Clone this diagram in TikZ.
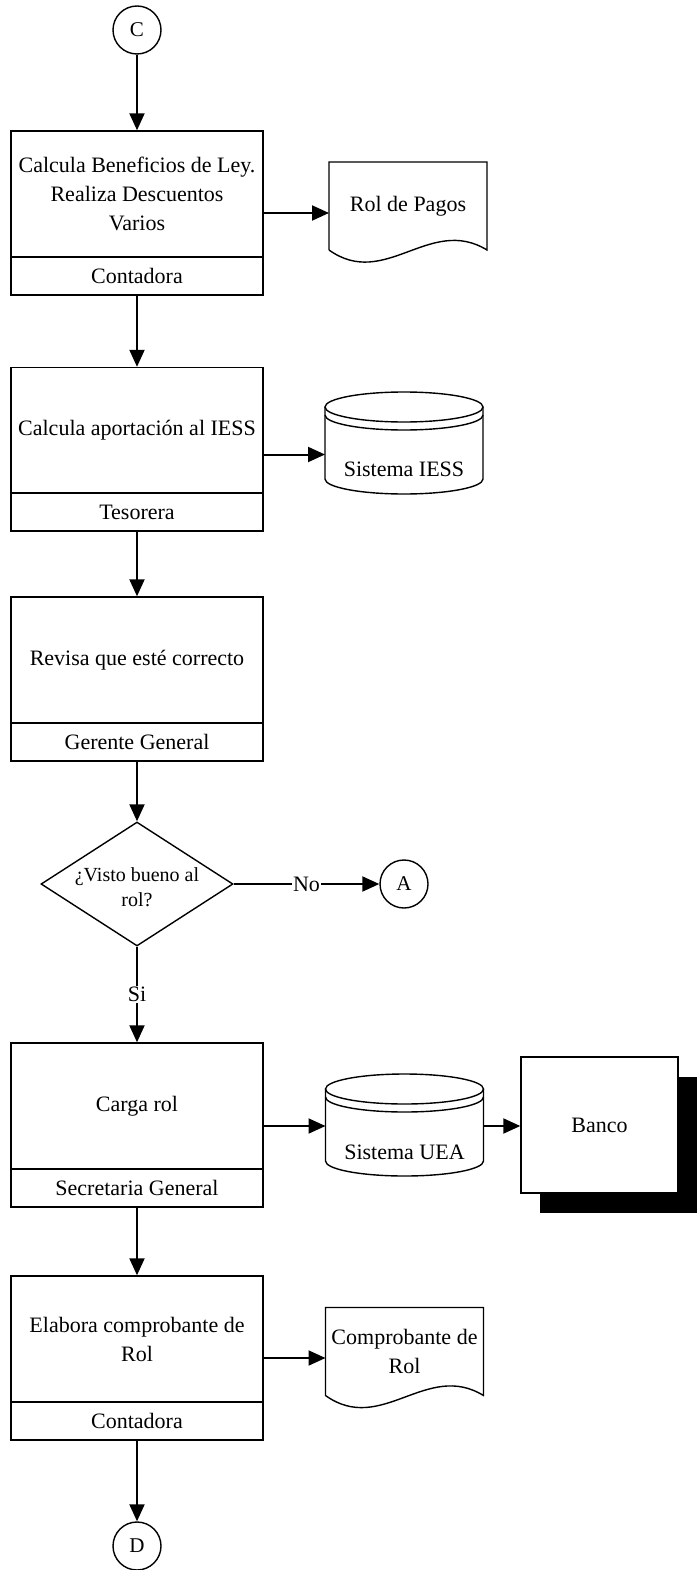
\documentclass[tikz,border=0pt]{standalone}
\usepackage{fontspec}
\setmainfont{Liberation Serif}
\usetikzlibrary{arrows.meta,shapes.geometric,shadows}

\tikzset{
  shape line/.style={line width=1.4pt},
  act/.style={shape line, draw, minimum width=252pt, minimum height=126pt, inner sep=0pt, align=center},
  role/.style={shape line, draw, minimum width=252pt, minimum height=38pt, inner sep=0pt},
  conn/.style={shape line, draw, circle, minimum size=48pt, inner sep=0pt, font=\fontsize{21}{25}\selectfont},
  doc/.style={minimum width=158pt, minimum height=88pt, inner sep=0pt, outer sep=0pt, align=center},
  db/.style={minimum width=158pt, minimum height=102pt, inner sep=0pt, outer sep=0pt},
  ext/.style={shape line, draw, fill=white, minimum width=157pt, minimum height=136pt,
    general shadow={shadow xshift=19pt, shadow yshift=-20pt, fill=black}},
  dec/.style={shape line, draw, diamond, minimum width=192pt, minimum height=124pt, inner sep=0pt},
  flow/.style={line width=2pt, -{Triangle[length=17pt,width=15pt]}},
  lbl/.style={fill=white, inner sep=1pt},
}

\begin{document}
\begin{tikzpicture}[x=1pt, y=-1pt, every node/.style={font=\fontsize{22}{29}\selectfont}]
  \useasboundingbox (0,0) rectangle (697,1570);
  \node[conn] (c) at (137,30) {C};
  \node[act] (p1) at (137,194) {Calcula Beneficios de Ley.\\Realiza Descuentos\\Varios};
  \node[role] (p1r) at (137,276) {Contadora};
  \node[doc] (rol) at (408,206) {Rol de Pagos};
  \node[act] (p2) at (137,430.5) {Calcula aportación al IESS};
  \node[role] (p2r) at (137,512) {Tesorera};
  \node[db] (iess) at (404,443) {};
  \node (iesst) at ([yshift=-26pt]iess.center) {Sistema IESS};
  \node[act] (p3) at (137,660) {Revisa que esté correcto};
  \node[role] (p3r) at (137,742) {Gerente General};
  \node[dec] (vb) at (137,884) {};
  \node[font=\fontsize{20}{25}\selectfont, align=center] (vbt) at (137,887) {¿Visto bueno al\\rol?};
  \node[conn] (a) at (404,884) {A};
  \node[act] (p4) at (137,1106) {Carga rol};
  \node[role] (p4r) at (137,1188) {Secretaria General};
  \node[db] (uea) at (404.5,1125) {};
  \node (ueat) at ([yshift=-27pt]uea.center) {Sistema UEA};
  \node[ext] (banco) at (599.5,1125) {Banco};
  \node[act] (p5) at (137,1339) {Elabora comprobante de\\Rol};
  \node[role] (p5r) at (137,1421) {Contadora};
  \node[doc] (comp) at (404.5,1351.5) {Comprobante de\\Rol};
  \node[conn] (d) at (137,1546) {D};

  \foreach \n in {rol,comp} {
    \draw[shape line] (\n.south west) -- (\n.north west) -- (\n.north east) -- (\n.south east)
      .. controls +(-57,-35) and +(56,40) .. (\n.south west);
  }
  \foreach \n in {iess,uea} {
    \draw[shape line] ([yshift=-15pt]\n.north west) -- ([yshift=15pt]\n.south west)
      arc[start angle=180, end angle=360, x radius=79pt, y radius=15pt]
      -- ([yshift=-15pt]\n.north east);
    \draw[shape line] ([yshift=-15pt]\n.north) ellipse[x radius=79pt, y radius=15pt];
    \draw[shape line] ([yshift=-23pt]\n.north west)
      arc[start angle=180, end angle=360, x radius=79pt, y radius=15pt];
  }

  \draw[flow] (c) -- (p1);
  \draw[flow] (p1r) -- (p2);
  \draw[flow] (p2r) -- (p3);
  \draw[flow] (p3r) -- (vb);
  \draw[flow] (vb) -- node[lbl] (no) {No} (a);
  \draw[flow] (vb) -- node[lbl] (si) {Si} (p4);
  \draw[flow] (p4r) -- (p5);
  \draw[flow] (p5r) -- (d);

  \coordinate (o1) at ([yshift=-19pt]p1.east);
  \draw[flow] (o1) -- (o1 -| rol.west);
  \coordinate (o2) at ([yshift=-24pt]p2.east);
  \draw[flow] (o2) -- (o2 -| iess.west);
  \coordinate (o4) at ([yshift=-20pt]p4.east);
  \draw[flow] (o4) -- (o4 -| uea.west);
  \draw[flow] (o4 -| uea.east) -- (o4 -| banco.west);
  \coordinate (o5) at ([yshift=-19pt]p5.east);
  \draw[flow] (o5) -- (o5 -| comp.west);
\end{tikzpicture}
\end{document}
